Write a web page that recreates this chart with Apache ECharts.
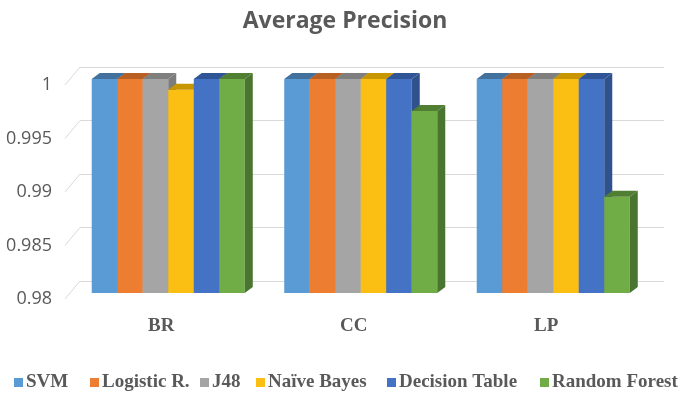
<!DOCTYPE html>
<html>
<head>
<meta charset="utf-8">
<script src="https://cdn.jsdelivr.net/npm/echarts@6/dist/echarts.min.js"></script>
<style>html,body{margin:0;padding:0;background:#fff}#c{width:690px;height:396px}</style>
</head>
<body>
<div id="c"></div>
<script>
// ---- data ----
const categories = ['BR', 'CC', 'LP'];
const seriesNames = ['SVM', 'Logistic R.', 'J48', 'Naïve Bayes', 'Decision Table', 'Random Forest'];
const svm = [1, 1, 1];
const logisticR = [1, 1, 1];
const j48 = [1, 1, 1];
const naiveBayes = [0.999, 1, 1];
const decisionTable = [1, 1, 1];
const randomForest = [1, 0.997, 0.989];
const yTicks = [0.98, 0.985, 0.99, 0.995, 1];
const titleText = 'Average Precision';

// ---- styles ----
const frontColors = ['#5B9BD5', '#ED7D31', '#A5A5A5', '#FBBF14', '#4472C4', '#70AD47'];
const topColors = ['#41719C', '#B85F24', '#7F7F7F', '#C79600', '#2F5597', '#507E32'];
const sideColors = ['#41719C', '#AE5A21', '#7C7C7C', '#BF9000', '#2F528F', '#4A7530'];
const depthX = 8, depthY = 6;
const groupFrac = 0.795;

const allValues = [svm, logisticR, j48, naiveBayes, decisionTable, randomForest];
const yMin = yTicks[0], yMax = yTicks[yTicks.length - 1], yInt = yTicks[1] - yTicks[0];

const chart = echarts.init(document.getElementById('c'), null, {renderer: 'canvas'});

const gridBars = {left: 72, right: 40.5, top: 79, height: 214};
const gridFront = {left: 65, right: 47.5, top: 85, height: 214};
const gridBack = {left: 80, right: 26, top: 67, height: 214};

function barSeries(k) {
  return {
    type: 'custom',
    name: seriesNames[k],
    xAxisIndex: 0, yAxisIndex: 0,
    itemStyle: {color: frontColors[k]},
    data: categories.map((c, i) => [i, allValues[k][i]]),
    renderItem: function (params, api) {
      const idx = api.value(0), v = api.value(1);
      const topPt = api.coord([idx, v]);
      const basePt = api.coord([idx, yMin]);
      const band = api.size([1, 0])[0];
      const gw = band * groupFrac, bw = gw / seriesNames.length;
      const x0 = topPt[0] - gw / 2 + k * bw;
      const t = topPt[1], b = basePt[1];
      return {
        type: 'group',
        children: [
          {type: 'rect', shape: {x: x0, y: t, width: bw, height: b - t}, style: {fill: frontColors[k]}},
          {type: 'polygon', shape: {points: [[x0, t], [x0 + depthX, t - depthY], [x0 + bw + depthX, t - depthY], [x0 + bw, t]]}, style: {fill: topColors[k]}},
          {type: 'polygon', shape: {points: [[x0 + bw, t], [x0 + bw + depthX, t - depthY], [x0 + bw + depthX, b - depthY], [x0 + bw, b]]}, style: {fill: sideColors[k]}}
        ]
      };
    }
  };
}

const legendPos = [14, 90, 200, 256, 387, 540];
const legends = seriesNames.map((n, k) => ({
  data: [n],
  left: legendPos[k],
  top: 373,
  padding: 0,
  icon: 'rect',
  itemWidth: 9, itemHeight: 9,
  selectedMode: false,
  textStyle: {fontFamily: 'Liberation Serif', fontWeight: 'bold', fontSize: 19, color: '#595959', padding: [0, 0, 0, -2]}
}));

const series = seriesNames.map((n, k) => barSeries(k));
// diagonal connectors from front plane to back wall
series.unshift({
  type: 'custom',
  xAxisIndex: 2, yAxisIndex: 2,
  silent: true,
  data: yTicks.map(v => [0, v]),
  renderItem: function (params, api) {
    const p = api.coord([0, api.value(1)]);
    const dx = gridBack.left - gridFront.left, dy = gridFront.top - gridBack.top;
    return {type: 'line', shape: {x1: p[0] - dx, y1: p[1] + dy, x2: p[0], y2: p[1]}, style: {stroke: '#D9D9D9', lineWidth: 1}};
  }
});

chart.setOption({
  animation: false,
  title: {text: titleText, left: 'center', top: 5, textStyle: {fontFamily: 'Open Sans', fontWeight: 'bold', fontSize: 23, color: '#595959'}},
  legend: legends,
  grid: [gridBars, gridFront, gridBack],
  xAxis: [
    {type: 'category', gridIndex: 0, data: categories, show: false},
    {type: 'category', gridIndex: 1, data: categories, axisLine: {show: false}, axisTick: {show: false},
      axisLabel: {margin: 18, fontFamily: 'Liberation Serif', fontWeight: 'bold', fontSize: 19, color: '#595959'}},
    {type: 'value', gridIndex: 2, min: 0, max: 1, show: false}
  ],
  yAxis: [
    {type: 'value', gridIndex: 0, min: yMin, max: yMax, interval: yInt, show: false},
    {type: 'value', gridIndex: 1, min: yMin, max: yMax, interval: yInt, axisLine: {show: false}, axisTick: {show: false}, splitLine: {show: false},
      axisLabel: {margin: 13, fontFamily: 'Open Sans', fontSize: 18, color: '#595959'}},
    {type: 'value', gridIndex: 2, min: yMin, max: yMax, interval: yInt, axisLine: {show: false}, axisTick: {show: false}, axisLabel: {show: false},
      splitLine: {show: true, lineStyle: {color: '#D9D9D9', width: 1}}}
  ],
  series: series
});
</script>
</body>
</html>
